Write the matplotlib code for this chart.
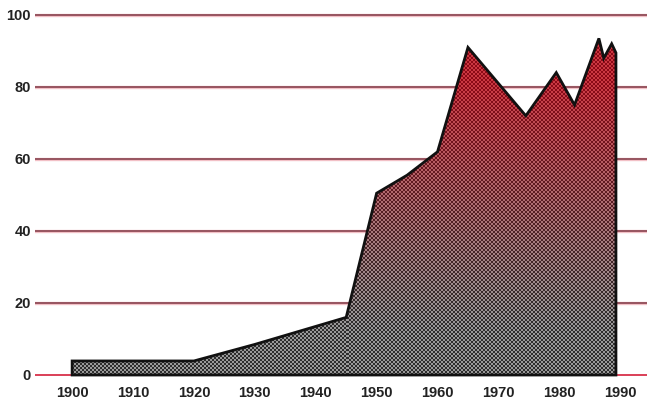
import numpy as np
import matplotlib
matplotlib.use("Agg")
import matplotlib.pyplot as plt

# values
years = [1900, 1920, 1930, 1945, 1950, 1955, 1960, 1965, 1974.5, 1979.5,
         1982.5, 1986.5, 1987.3, 1988.6, 1989.3]
values = [3.9, 3.9, 8.5, 16, 50.5, 55.5, 62, 91, 72, 84, 75, 93.5, 88, 92, 89.5]
xticks = [1900, 1910, 1920, 1930, 1940, 1950, 1960, 1970, 1980, 1990]
yticks = [0, 20, 40, 60, 80, 100]

plt.rcParams["font.family"] = ["Liberation Sans", "DejaVu Sans"]

fig = plt.figure(figsize=(6.47, 4.0), dpi=100)
ax = fig.add_axes([35 / 647, 0.0445, 612 / 647, 0.936])

# grid lines
for v in yticks[1:]:
    ax.axhline(v, color="#f2c0c6", lw=2.4, zorder=1)
    ax.axhline(v, color="#7e3844", lw=1.1, zorder=1)
ax.axhline(0, color="#d8304a", lw=1.3, zorder=1)

# outline polygon
xs = [years[0]] + years + [years[-1]]
ys = [0] + values + [0]
poly = ax.fill(xs, ys, facecolor="none", edgecolor="#111111", lw=2.0,
               joinstyle="miter", zorder=4)[0]

# halftone gradient fill: gray at the bottom, red at the top
h, w = 360, 548
yy = np.linspace(0, 1, h)[:, None] * np.ones((1, w))
i, j = np.indices((h, w))
checker = ((i // 2 + j // 2) % 2).astype(float)
t = np.clip((yy - 0.12) / 0.7, 0, 1) ** 1.2
dark = np.array([0.18, 0.18, 0.18])
light = np.array([0.60, 0.60, 0.60])
dark_r = np.array([0.55, 0.04, 0.09])
light_r = np.array([0.80, 0.22, 0.26])
d = dark * (1 - t[..., None]) + dark_r * t[..., None]
l = light * (1 - t[..., None]) + light_r * t[..., None]
img = d * checker[..., None] + l * (1 - checker[..., None])
im = ax.imshow(img, origin="lower", extent=[1900, 1990, 0, 100],
               aspect="auto", interpolation="nearest", zorder=3)
im.set_clip_path(poly)
ax.set_xlim(1893.9, 1994.4)
ax.set_ylim(-2, 102)

for s in ax.spines.values():
    s.set_visible(False)
ax.set_xticks(xticks)
ax.set_yticks(yticks)
ax.tick_params(length=0, labelsize=10.5)
ax.tick_params(axis="y", pad=3)
ax.tick_params(axis="x", pad=2.5)
for lab in ax.get_xticklabels() + ax.get_yticklabels():
    lab.set_fontweight("bold")
    lab.set_color("#222222")

fig.savefig("out.png", dpi=100)
